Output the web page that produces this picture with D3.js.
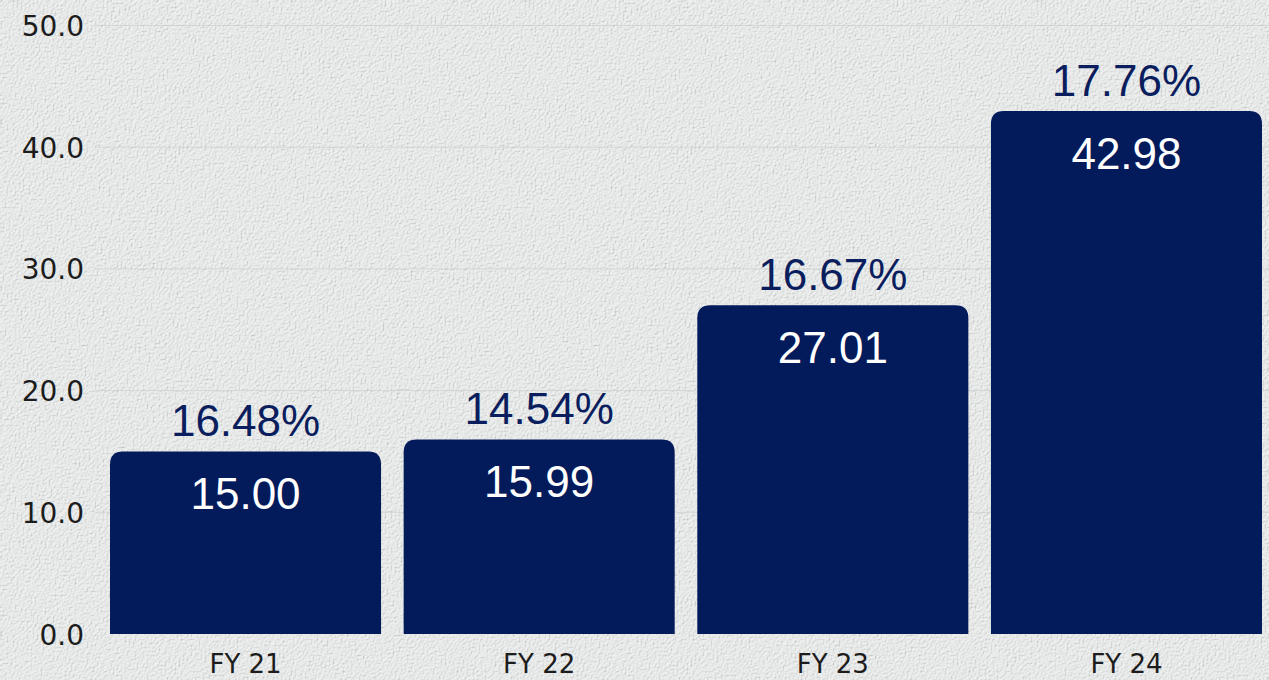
<!DOCTYPE html>
<html>
<head>
<meta charset="utf-8">
<script src="https://cdn.jsdelivr.net/npm/d3@7"></script>
<style>
  html, body { margin: 0; padding: 0; background: #e8eaea; overflow: hidden; }
  svg { display: block; }
</style>
</head>
<body>
<svg id="chart" width="1269" height="680"></svg>
<script>
const categories = ["FY 21", "FY 22", "FY 23", "FY 24"];
const values = [15.00, 15.99, 27.01, 42.98];
const growthLabels = ["16.48%", "14.54%", "16.67%", "17.76%"];
const yTicks = [0, 10, 20, 30, 40, 50];

const W = 1269, H = 680;
const svg = d3.select("#chart");

// textured concrete-like background
const defs = svg.append("defs");
const f = defs.append("filter").attr("id", "tex").attr("x", 0).attr("y", 0).attr("width", "100%").attr("height", "100%");
f.append("feTurbulence").attr("type", "fractalNoise").attr("baseFrequency", 0.5).attr("numOctaves", 3).attr("seed", 4).attr("result", "noise");
f.append("feDiffuseLighting").attr("in", "noise").attr("lighting-color", "#f4f6f6").attr("surfaceScale", 1.4).attr("result", "lit")
  .append("feDistantLight").attr("azimuth", 45).attr("elevation", 62);
f.append("feComposite").attr("in", "lit").attr("in2", "SourceGraphic").attr("operator", "in");
svg.append("rect").attr("width", W).attr("height", H).attr("fill", "#e9ebeb");
svg.append("rect").attr("width", W).attr("height", H).attr("fill", "#fff").attr("filter", "url(#tex)").attr("opacity", 0.7);

const y = d3.scaleLinear().domain([0, 50]).range([634, 25.5]);
const x = d3.scaleBand().domain(categories).range([98.7, 1273.3]).paddingInner(0.077).paddingOuter(0.0385);

// faint gridlines
svg.append("g").selectAll("line").data(yTicks.slice(1)).join("line")
  .attr("x1", 95).attr("x2", W).attr("y1", d => y(d)).attr("y2", d => y(d))
  .attr("stroke", "#c6c9c9").attr("stroke-width", 1).attr("opacity", 0.6);

// y axis
const yAxis = d3.axisLeft(y).tickValues(yTicks).tickFormat(d3.format(".1f")).tickSize(0).tickPadding(0);
const gy = svg.append("g").attr("transform", "translate(84,0)").call(yAxis);
gy.select(".domain").remove();
gy.selectAll("text").attr("font-family", "'DejaVu Sans', sans-serif").attr("font-size", 28)
  .attr("fill", "#1c1c1c").attr("dy", "0.36em");

// x axis
const xAxis = d3.axisBottom(x).tickSize(0).tickPadding(0);
const gx = svg.append("g").attr("transform", "translate(0,653)").call(xAxis);
gx.select(".domain").remove();
gx.selectAll("text").attr("font-family", "'DejaVu Sans', sans-serif").attr("font-size", 26)
  .attr("fill", "#1c1c1c").attr("dy", "0.76em");

// bars with rounded top corners
const r = 13;
function barPath(d, i) {
  const x0 = x(categories[i]), w = x.bandwidth();
  const yt = y(d), yb = y(0);
  return `M${x0},${yb} L${x0},${yt + r} Q${x0},${yt} ${x0 + r},${yt} L${x0 + w - r},${yt} Q${x0 + w},${yt} ${x0 + w},${yt + r} L${x0 + w},${yb} Z`;
}
svg.append("g").selectAll("path").data(values).join("path")
  .attr("d", barPath).attr("fill", "#031a5b");

// value labels inside bars
svg.append("g").selectAll("text").data(values).join("text")
  .attr("x", (d, i) => x(categories[i]) + x.bandwidth() / 2)
  .attr("y", d => y(d) + 58)
  .attr("text-anchor", "middle")
  .attr("font-family", "'Liberation Sans', Arial, sans-serif")
  .attr("font-size", 44).attr("fill", "#ffffff")
  .text(d => d.toFixed(2));

// growth labels above bars
svg.append("g").selectAll("text").data(growthLabels).join("text")
  .attr("x", (d, i) => x(categories[i]) + x.bandwidth() / 2)
  .attr("y", (d, i) => y(values[i]) - 15)
  .attr("text-anchor", "middle")
  .attr("font-family", "'Liberation Sans', Arial, sans-serif")
  .attr("font-size", 44).attr("fill", "#0a1e5e")
  .text(d => d);
</script>
</body>
</html>
